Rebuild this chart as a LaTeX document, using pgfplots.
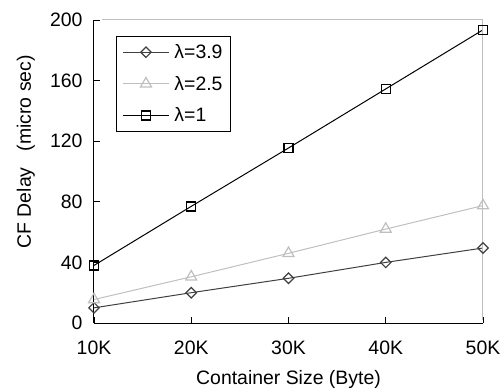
\documentclass[border=0pt]{standalone}
\usepackage{pgfplots}
\pgfplotsset{compat=1.18}
\usepackage{fontspec}
\setmainfont{Liberation Sans}
\definecolor{dgray}{HTML}{404040}
\definecolor{lgray}{HTML}{BFBFBF}
\newcommand{\ff}{\fontsize{19.5}{22}\selectfont}
\begin{document}
\begin{tikzpicture}
\begin{axis}[
  scale only axis,
  width=389bp, height=303bp,
  xmin=1, xmax=5, ymin=0, ymax=200,
  xtick={1,2,3,4,5},
  xticklabels={10K,20K,30K,40K,50K},
  ytick={0,40,80,120,160,200},
  axis x line*=bottom, axis y line*=left,
  axis line style={-, black, line width=1bp},
  tick align=inside,
  major tick length=6bp,
  tick style={black, line width=0.8bp},
  tick label style={font=\ff},
  /pgf/number format/assume math mode=true,
  xticklabel style={yshift=-14bp},
  yticklabel style={xshift=-8bp},
  label style={font=\ff},
  xlabel={Container Size (Byte)},
  ylabel={CF Delay\ \ \ (micro sec)},
  xlabel style={at={(axis description cs:0.5,0)}, anchor=north, yshift=-44bp},
  ylabel style={at={(axis description cs:-0.175,0.565)}, anchor=center},
  legend style={at={(axis description cs:0.049,0.957)}, anchor=north west, xshift=3bp, yshift=-3bp,
    draw=black, line width=0.8bp, font=\ff, row sep=12bp, column sep=3bp, inner xsep=6bp, inner ysep=6bp},
  legend cell align=left,
  legend image code/.code={\draw[mark repeat=2,mark phase=2,#1] plot coordinates {(0bp,0bp) (23bp,0bp) (46bp,0bp)};},
]
\addplot[color=dgray, line width=1bp, mark=square, mark size=3.7bp,
  mark options={rotate=45, fill=white, line width=1.2bp}]
  coordinates {(1,10) (2,20) (3,29.5) (4,40) (5,49.5)};
\addlegendentry{λ=3.9}
\addplot[color=lgray, line width=1bp, mark=triangle, mark size=6.3bp,
  mark options={fill=white, line width=1.2bp}]
  coordinates {(1,15.5) (2,30.5) (3,46) (4,62) (5,77.5)};
\addlegendentry{λ=2.5}
\addplot[color=black, line width=1bp, mark=square, mark size=4.5bp,
  mark options={fill=white, line width=1.4bp}]
  coordinates {(1,38) (2,77) (3,115.5) (4,154.5) (5,193.5)};
\addlegendentry{λ=1}
\draw[lgray, line width=1bp] (rel axis cs:0.02,1) -- (rel axis cs:1,1) -- (rel axis cs:1,0.01);
\coordinate (ll) at (rel axis cs:0,0);
\coordinate (ur) at (rel axis cs:1,1);
\end{axis}
\pgfresetboundingbox
\path ([shift={(-94bp,-69bp)}]ll) rectangle ([shift={(20bp,20bp)}]ur);
\end{tikzpicture}
\end{document}
